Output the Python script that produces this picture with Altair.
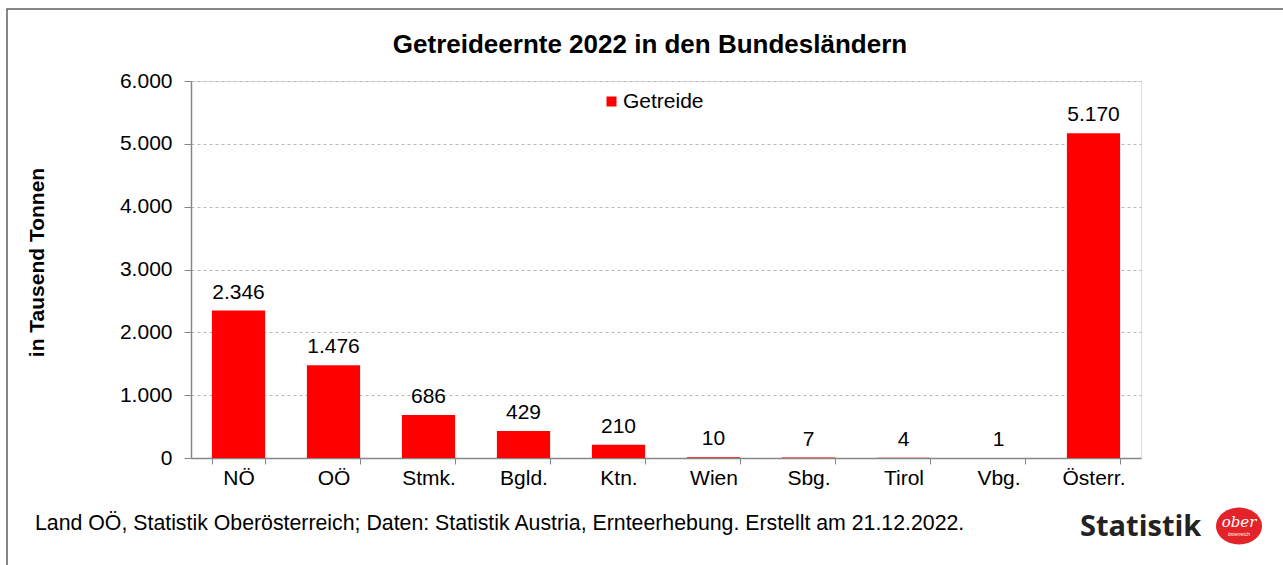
import altair as alt
import pandas as pd

categories = ["NÖ", "OÖ", "Stmk.", "Bgld.", "Ktn.", "Wien", "Sbg.", "Tirol", "Vbg.", "Österr."]
values = [2346, 1476, 686, 429, 210, 10, 7, 4, 1, 5170]
series_name = "Getreide"
y_ticks = [0, 1000, 2000, 3000, 4000, 5000, 6000]

title_text = "Getreideernte 2022 in den Bundesländern"
y_title = "in Tausend Tonnen"
footer_text = "Land OÖ, Statistik Oberösterreich; Daten: Statistik Austria, Ernteerhebung. Erstellt am 21.12.2022."

df = pd.DataFrame({"Land": categories, "Wert": values, "Serie": [series_name] * len(categories)})

FONT = "Liberation Sans"
W, H = 950, 377
L, T = 191, 81

x_enc = alt.X("Land:N", sort=categories, title=None,
              scale=alt.Scale(paddingInner=0.44, paddingOuter=0.22),
              axis=alt.Axis(labelAngle=0, labelFontSize=21, labelFont=FONT, labelColor="#000000",
                            tickBand="extent", tickSize=6, tickColor="#868686", labelPadding=3,
                            domainColor="#868686", domainWidth=1.5, grid=False))
y_enc = alt.Y("Wert:Q", title=y_title,
              scale=alt.Scale(domain=[0, 6000], nice=False),
              axis=alt.Axis(values=y_ticks, labelFontSize=21, labelFont=FONT, labelColor="#000000",
                            labelExpr="replace(format(datum.value, ',d'), ',', '.')",
                            tickSize=7, tickColor="#868686", labelPadding=12,
                            domainColor="#868686", domainWidth=1.5,
                            grid=True, gridColor="#b8b8b8", gridDash=[3, 3], gridWidth=1,
                            titleFont=FONT, titleFontSize=21, titleFontWeight="bold", titleColor="#000000",
                            titleAngle=-90, titleX=37 - L, titleY=262 - T, titleAlign="center",
                            titleBaseline="middle"))

bars = alt.Chart(df).mark_bar(color="#FF0000").encode(
    x=x_enc, y=y_enc,
    color=alt.Color("Serie:N", scale=alt.Scale(range=["#FF0000"]),
                    legend=alt.Legend(title=None, orient="none", legendX=601 - L, legendY=91 - T,
                                      symbolType="square", symbolSize=100, symbolStrokeWidth=0,
                                      labelFont=FONT, labelFontSize=21, labelColor="#000000",
                                      labelOffset=1))
)

labels = alt.Chart(df).transform_calculate(
    lab="replace(format(datum.Wert, ',d'), ',', '.')"
).mark_text(font=FONT, fontSize=21, color="#000000", baseline="alphabetic", dy=-12).encode(
    x=alt.X("Land:N", sort=categories),
    y=alt.Y("Wert:Q"),
    text="lab:N"
)

one = pd.DataFrame({"k": [0]})

title = alt.Chart(one).mark_text(text=title_text, font=FONT, fontSize=26, fontWeight="bold",
                                 color="#000000", align="center", baseline="middle").encode(
    x=alt.value(650 - L), y=alt.value(45 - T))

footer = alt.Chart(one).mark_text(text=footer_text, font=FONT, fontSize=21.3, color="#000000",
                                  align="left", baseline="middle").encode(
    x=alt.value(35 - L), y=alt.value(524 - T))

border = alt.Chart(one).mark_rect(fill=None, stroke="#5f5f5f", strokeWidth=1.5).encode(
    x=alt.value(7 - L), x2=alt.value(1300 - L), y=alt.value(9 - T), y2=alt.value(620 - T))

logo_text = alt.Chart(one).mark_text(text="Statistik", font="Open Sans", fontSize=29, fontWeight="bold",
                                     color="#222222", align="left", baseline="middle").encode(
    x=alt.value(1080 - L), y=alt.value(527 - T))

ellipse = alt.Chart(one).mark_point(
    shape="M -1 0 A 1 0.8 0 1 0 1 0 A 1 0.8 0 1 0 -1 0 Z",
    filled=True, color="#E3222A", opacity=1, size=2116).encode(
    x=alt.value(1239 - L), y=alt.value(526 - T))

ober = alt.Chart(one).mark_text(text="ober", font="DejaVu Serif", fontStyle="italic", fontSize=15,
                                color="#ffffff", align="center", baseline="middle").encode(
    x=alt.value(1239 - L), y=alt.value(522 - T))

oe = alt.Chart(one).mark_text(text="österreich", font=FONT, fontSize=5, color="#ffffff",
                              align="center", baseline="middle").encode(
    x=alt.value(1239 - L), y=alt.value(534 - T))

chart = alt.layer(border, bars, labels, title, footer, logo_text, ellipse, ober, oe).properties(
    width=W, height=H,
    autosize=alt.AutoSizeParams(type="none"),
    padding={"left": L, "top": T, "right": 1283 - L - W, "bottom": 565 - T - H}
).configure_view(stroke=None).configure(background="#ffffff")

chart.save("out.html", embed_options={"renderer": "svg", "actions": False})
